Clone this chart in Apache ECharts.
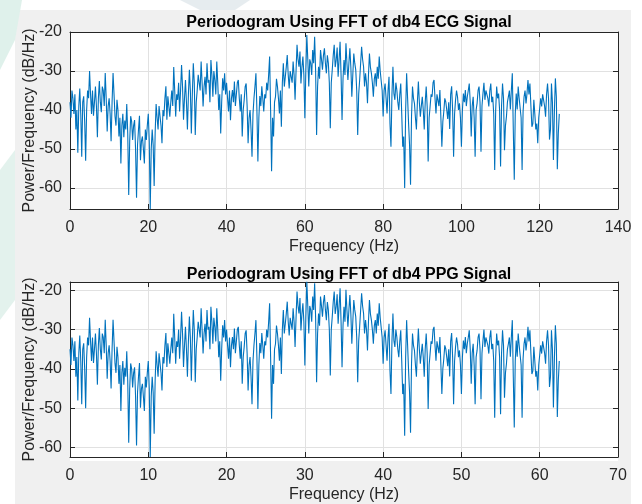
<!DOCTYPE html>
<html>
<head>
<meta charset="utf-8">
<script src="https://cdn.jsdelivr.net/npm/echarts@6/dist/echarts.min.js"></script>
<style>
html,body{margin:0;padding:0;background:#fff;}
#chart{width:642px;height:504px;}
</style>
</head>
<body>
<div id="chart"></div>
<script>
// ---- Data ----
const ecgTitle = 'Periodogram Using FFT of db4 ECG Signal';
const ppgTitle = 'Periodogram Using FFT of db4 PPG Signal';
const xAxisName = 'Frequency (Hz)';
const yAxisName = 'Power/Frequency (dB/Hz)';

// frequency resolution of each periodogram (Hz per bin)
const ecgStepHz = 0.25;
const ppgStepHz = 0.125;

// x tick labels
const ecgXTicks = [0, 20, 40, 60, 80, 100, 120, 140];
const ppgXTicks = [0, 10, 20, 30, 40, 50, 60, 70];
// y tick labels
const ecgYTicks = [-60, -50, -40, -30, -20];
const ppgYTicks = [-60, -50, -40, -30, -20];
// y limits
const ecgYRange = [-65.4, -20];
const ppgYRange = [-62.4, -17.9];

// ECG periodogram, dB/Hz, bins 0 .. 125 Hz (one row = 10 Hz)
const ecgPowerDb = [
 -38, -42, -35, -37, -41, -36, -45, -40, -51, -39, -34.5, -41, -52, -38, -36.5, -43, -53, -40, -35, -37, -30, -36, -41, -35, -41.5, -38, -34, -39, -47, -37, -32.6, -38, -40.6, -34, -35, -39, -30.5, -37, -45.5, -39,
 -37, -41, -48, -38, -30.5, -36, -41.6, -44, -37.4, -40, -46.8, -42, -53.7, -44, -41, -47, -42.7, -45, -38.5, -46, -61.8, -48, -41.6, -43, -47.7, -44, -42.6, -50, -62.5, -49, -45, -41.5, -52.9, -48, -46.8, -50, -53.7, -45, -47.7, -44,
 -41, -48, -65.4, -50, -45, -49, -59.5, -46, -38.5, -42, -45, -39, -41.6, -44, -48.5, -40, -41.6, -37, -33.9, -42.5, -36.5, -39, -41.7, -38, -35, -39, -29, -35, -41.7, -36, -37.4, -33, -40.4, -35, -28.5, -34, -42.5, -37, -32.3, -38,
 -45, -36, -29.7, -35, -46, -36, -28, -33, -46.4, -38, -34.9, -31, -30.6, -35, -27.6, -33, -39.1, -34, -31.5, -36, -28, -33, -32.3, -38, -27.2, -31, -36.6, -30, -32.3, -36, -27.6, -33, -40, -36, -46, -38, -31.9, -35, -30.6, -36,
 -33, -37, -40.4, -35, -42.6, -37, -34.9, -38, -32.7, -39, -36, -33, -32.3, -37, -40.4, -36, -46.8, -40, -37.4, -34, -33.2, -39, -48.5, -42, -40, -45, -52, -41, -37, -34, -30.6, -40, -53.2, -42, -36.4, -39, -33.9, -37, -40.4, -36,
 -37, -33, -35, -31, -26.3, -40, -55.7, -42, -46.8, -38, -36.6, -32, -34, -37, -40.9, -35, -44.3, -33, -28, -34, -31.5, -29, -25.9, -31, -34.5, -30, -29.7, -33, -27.6, -31, -37.4, -30, -23.3, -27, -28.9, -25, -33.2, -29, -26.3, -31,
 -42.1, -30, -20.8, -27, -34, -27, -28, -31, -24.6, -28, -21.2, -30, -46.4, -34, -28.9, -32, -24.6, -27, -29.7, -26, -24.2, -28, -30.6, -26, -28, -33, -44.7, -33, -29.7, -26, -23.3, -29, -27.2, -24, -31.5, -27, -22.5, -31, -42.6, -32,
 -27.2, -31, -22.9, -28, -32.3, -28, -24.2, -29, -36.6, -31, -25.5, -28, -29.7, -35, -46.4, -36, -32.3, -28, -23.8, -27, -28.9, -34, -30.6, -33, -38.3, -31, -25.5, -29, -30.6, -33, -36.6, -32, -30.6, -34, -28.9, -32, -26.3, -30, -29.7, -35,
 -41.7, -35, -33.2, -37, -40.9, -35, -31.5, -43.5, -49.4, -36, -28.9, -35.8, -37.4, -33, -34.9, -38, -40, -36, -33.2, -41, -49.4, -46.8, -60, -40, -30.6, -37, -43.5, -49, -59.2, -41.7, -34, -37, -38.3, -42, -45, -38, -32.7, -38, -41.7, -39,
 -36.6, -40, -45, -38, -34, -39.1, -53.2, -42, -39.1, -36, -36.6, -33, -32.3, -37, -40.9, -36, -35.8, -39, -34.9, -42, -49.4, -43, -40.4, -37, -37.9, -40, -42.3, -38, -44.9, -36, -33.9, -40, -52, -41, -37.4, -35, -36.6, -40, -38.3, -42,
 -49.4, -40, -35.8, -38, -34.9, -39, -36.6, -35, -33.2, -38, -46.8, -39, -36.6, -42, -52, -40, -38.3, -35, -34, -38, -50.7, -39, -35.8, -33, -37.4, -35, -34.9, -37, -39.1, -35, -33.2, -38, -36.6, -41, -55.4, -40, -34, -37, -35.8, -40,
 -54.5, -39, -33.2, -37, -50.3, -44, -41.7, -38, -36.6, -35, -39.9, -35, -30.6, -45, -57.9, -41, -35.8, -39.9, -34, -37, -36.6, -42, -55.4, -40.4, -36.6, -35, -38.3, -35.8, -32.3, -36, -33.2, -39, -44.3, -43.5, -37.4, -41, -45, -43.5, -48.5, -42,
 -41.7, -37, -39.1, -36, -35.8, -39, -41.7, -36, -33.2, -37, -47.6, -45, -33.2, -38, -52.8, -40.4, -31.9, -36.6, -55.2, -46, -41
];

// PPG periodogram, dB/Hz, bins 0 .. 62.5 Hz (one row = 5 Hz)
const ppgPowerDb = [
 -35, -39, -32, -34, -38, -33, -42, -37, -48, -36, -31.5, -38, -49, -35, -33.5, -40, -50, -37, -32, -34, -27, -33, -38, -32, -38.5, -35, -31, -36, -44, -34, -29.6, -35, -37.6, -31, -32, -36, -27.5, -34, -42.5, -36,
 -34, -38, -45, -35, -27.5, -33, -38.6, -41, -34.4, -37, -43.8, -39, -50.7, -41, -38, -44, -39.7, -42, -35.5, -43, -58.8, -45, -38.6, -40, -44.7, -41, -39.6, -47, -59.5, -46, -42, -38.5, -49.9, -45, -43.8, -47, -50.7, -42, -44.7, -41,
 -38, -45, -62.4, -47, -42, -46, -56.5, -43, -35.5, -39, -42, -36, -38.6, -41, -45.5, -37, -38.6, -34, -30.9, -39.5, -33.5, -36, -38.7, -35, -32, -36, -26, -32, -38.7, -33, -34.4, -30, -37.4, -32, -25.5, -31, -39.5, -34, -29.3, -35,
 -42, -33, -26.7, -32, -43, -33, -25, -30, -43.4, -35, -31.9, -28, -27.6, -32, -24.6, -30, -36.1, -31, -28.5, -33, -25, -30, -29.3, -35, -24.2, -28, -33.6, -27, -29.3, -33, -24.6, -30, -37, -33, -43, -35, -28.9, -32, -27.6, -33,
 -30, -34, -37.4, -32, -39.6, -34, -31.9, -35, -29.7, -36, -33, -30, -29.3, -34, -37.4, -33, -43.8, -37, -34.4, -31, -30.2, -36, -45.5, -39, -37, -42, -49, -38, -34, -31, -27.6, -37, -50.2, -39, -33.4, -36, -30.9, -34, -37.4, -33,
 -34, -30, -32, -28, -23.3, -37, -52.7, -39, -43.8, -35, -33.6, -29, -31, -34, -37.9, -32, -41.3, -30, -25, -31, -28.5, -26, -22.9, -28, -31.5, -27, -26.7, -30, -24.6, -28, -34.4, -27, -20.3, -24, -25.9, -22, -30.2, -26, -23.3, -28,
 -39.1, -27, -17.8, -24, -31, -24, -25, -28, -21.6, -25, -18.2, -27, -43.4, -31, -25.9, -29, -21.6, -24, -26.7, -23, -21.2, -25, -27.6, -23, -25, -30, -41.7, -30, -26.7, -23, -20.3, -26, -24.2, -21, -28.5, -24, -19.5, -28, -39.6, -29,
 -24.2, -28, -19.9, -25, -29.3, -25, -21.2, -26, -33.6, -28, -22.5, -25, -26.7, -32, -43.4, -33, -29.3, -25, -20.8, -24, -25.9, -31, -27.6, -30, -35.3, -28, -22.5, -26, -27.6, -30, -33.6, -29, -27.6, -31, -25.9, -29, -23.3, -27, -26.7, -32,
 -38.7, -32, -30.2, -34, -37.9, -32, -28.5, -40.5, -46.4, -33, -25.9, -32.8, -34.4, -30, -31.9, -35, -37, -33, -30.2, -38, -46.4, -43.8, -57, -37, -27.6, -34, -40.5, -46, -56.2, -38.7, -31, -34, -35.3, -39, -42, -35, -29.7, -35, -38.7, -36,
 -33.6, -37, -42, -35, -31, -36.1, -50.2, -39, -36.1, -33, -33.6, -30, -29.3, -34, -37.9, -33, -32.8, -36, -31.9, -39, -46.4, -40, -37.4, -34, -34.9, -37, -39.3, -35, -41.9, -33, -30.9, -37, -49, -38, -34.4, -32, -33.6, -37, -35.3, -39,
 -46.4, -37, -32.8, -35, -31.9, -36, -33.6, -32, -30.2, -35, -43.8, -36, -33.6, -39, -49, -37, -35.3, -32, -31, -35, -47.7, -36, -32.8, -30, -34.4, -32, -31.9, -34, -36.1, -32, -30.2, -35, -33.6, -38, -52.4, -37, -31, -34, -32.8, -37,
 -51.5, -36, -30.2, -34, -47.3, -41, -38.7, -35, -33.6, -32, -36.9, -32, -27.6, -42, -54.9, -38, -32.8, -36.9, -31, -34, -33.6, -39, -52.4, -37.4, -33.6, -32, -35.3, -32.8, -29.3, -33, -30.2, -36, -41.3, -40.5, -34.4, -38, -42, -40.5, -45.5, -39,
 -38.7, -34, -36.1, -33, -32.8, -36, -38.7, -33, -30.2, -34, -44.6, -42, -30.2, -35, -49.8, -37.4, -28.9, -33.6, -52.2, -43, -38
];

// ---- Chart ----
const FONT = '"Liberation Sans", Arial, Helvetica, sans-serif';
const TXT = '#262626';
const LINE = '#0072BD';
const FS = 16;

const chart = echarts.init(document.getElementById('chart'), null, {renderer: 'canvas'});

const grids = [
  {left: 70, top: 32, width: 548, height: 177},
  {left: 70, top: 282, width: 548, height: 179}
];

function toPairs(vals, step) { return vals.map((v, i) => [i * step, v]); }

function mainX(gi, ticks) {
  return {
    type: 'value', gridIndex: gi, position: 'bottom',
    min: ticks[0], max: ticks[ticks.length - 1], interval: ticks[1] - ticks[0],
    name: xAxisName, nameLocation: 'middle', nameGap: 30, nameMoveOverlap: false,
    nameTextStyle: {color: TXT, fontFamily: FONT, fontSize: FS},
    axisLine: {show: true, onZero: false, lineStyle: {color: TXT, width: 1}},
    axisTick: {show: true, inside: true, length: 5, lineStyle: {color: TXT}},
    axisLabel: {color: TXT, fontFamily: FONT, fontSize: FS, margin: 11},
    splitLine: {show: true, lineStyle: {color: '#e1e1e1', width: 1}}
  };
}
function topX(gi, ticks) {
  return {
    type: 'value', gridIndex: gi, position: 'top',
    min: ticks[0], max: ticks[ticks.length - 1], interval: ticks[1] - ticks[0],
    axisLine: {show: true, onZero: false, lineStyle: {color: TXT, width: 1}},
    axisTick: {show: true, inside: true, length: 5, lineStyle: {color: TXT}},
    axisLabel: {show: false}, splitLine: {show: false}
  };
}
function mainY(gi, range, ticks) {
  return {
    type: 'value', gridIndex: gi, position: 'left',
    min: range[0], max: range[1],
    minInterval: ticks[1] - ticks[0], maxInterval: ticks[1] - ticks[0],
    name: yAxisName, nameLocation: 'middle', nameGap: 32, nameRotate: 90, nameMoveOverlap: false,
    nameTextStyle: {color: TXT, fontFamily: FONT, fontSize: FS},
    axisLine: {show: true, onZero: false, lineStyle: {color: TXT, width: 1}},
    axisTick: {show: true, inside: true, length: 5, lineStyle: {color: TXT}},
    axisLabel: {color: TXT, fontFamily: FONT, fontSize: FS, margin: 8,
      showMinLabel: false, showMaxLabel: range[1] === ticks[ticks.length - 1],
      formatter: v => (ticks.indexOf(Math.round(v)) >= 0 && Math.abs(v - Math.round(v)) < 1e-6) ? String(Math.round(v)) : ''},
    splitLine: {show: true, lineStyle: {color: '#e1e1e1', width: 1}}
  };
}
function rightY(gi, range, ticks) {
  return {
    type: 'value', gridIndex: gi, position: 'right',
    min: range[0], max: range[1],
    minInterval: ticks[1] - ticks[0], maxInterval: ticks[1] - ticks[0],
    axisLine: {show: true, onZero: false, lineStyle: {color: TXT, width: 1}},
    axisTick: {show: true, inside: true, length: 5, lineStyle: {color: TXT}},
    axisLabel: {show: false}, splitLine: {show: false}
  };
}

const option = {
  animation: false,
  backgroundColor: '#ffffff',
  graphic: [
    {type: 'rect', silent: true, z: -10, shape: {x: 15, y: 10, width: 616, height: 494}, style: {fill: '#f0f0f0'}},
    {type: 'polygon', silent: true, z: -9, shape: {points: [[0, 0], [22, 0], [15, 40], [0, 70]]}, style: {fill: '#dff1eb'}},
    {type: 'polygon', silent: true, z: -9, shape: {points: [[0, 170], [15, 150], [15, 300], [0, 320]]}, style: {fill: '#e3f2ed'}},
    {type: 'polygon', silent: true, z: -9, shape: {points: [[180, 0], [250, 0], [235, 10], [200, 10]]}, style: {fill: '#e6ecef'}},
    {type: 'rect', silent: true, z: -8, shape: {x: 70, y: 32, width: 548, height: 177}, style: {fill: '#ffffff'}},
    {type: 'rect', silent: true, z: -8, shape: {x: 70, y: 282, width: 548, height: 179}, style: {fill: '#ffffff'}}
  ],
  title: [
    {text: ecgTitle, left: 344, top: 10, textAlign: 'center',
     textStyle: {color: '#000', fontFamily: FONT, fontSize: FS, fontWeight: 'bold'}},
    {text: ppgTitle, left: 344, top: 262, textAlign: 'center',
     textStyle: {color: '#000', fontFamily: FONT, fontSize: FS, fontWeight: 'bold'}}
  ],
  grid: grids.map(g => Object.assign({containLabel: false}, g)),
  xAxis: [mainX(0, ecgXTicks), mainX(1, ppgXTicks), topX(0, ecgXTicks), topX(1, ppgXTicks)],
  yAxis: [mainY(0, ecgYRange, ecgYTicks), mainY(1, ppgYRange, ppgYTicks),
          rightY(0, ecgYRange, ecgYTicks), rightY(1, ppgYRange, ppgYTicks)],
  series: [
    {type: 'line', xAxisIndex: 0, yAxisIndex: 0, data: toPairs(ecgPowerDb, ecgStepHz),
     showSymbol: false, clip: true, lineStyle: {color: LINE, width: 1.1}, itemStyle: {color: LINE}},
    {type: 'line', xAxisIndex: 1, yAxisIndex: 1, data: toPairs(ppgPowerDb, ppgStepHz),
     showSymbol: false, clip: true, lineStyle: {color: LINE, width: 1.1}, itemStyle: {color: LINE}}
  ]
};
chart.setOption(option);
</script>
</body>
</html>
